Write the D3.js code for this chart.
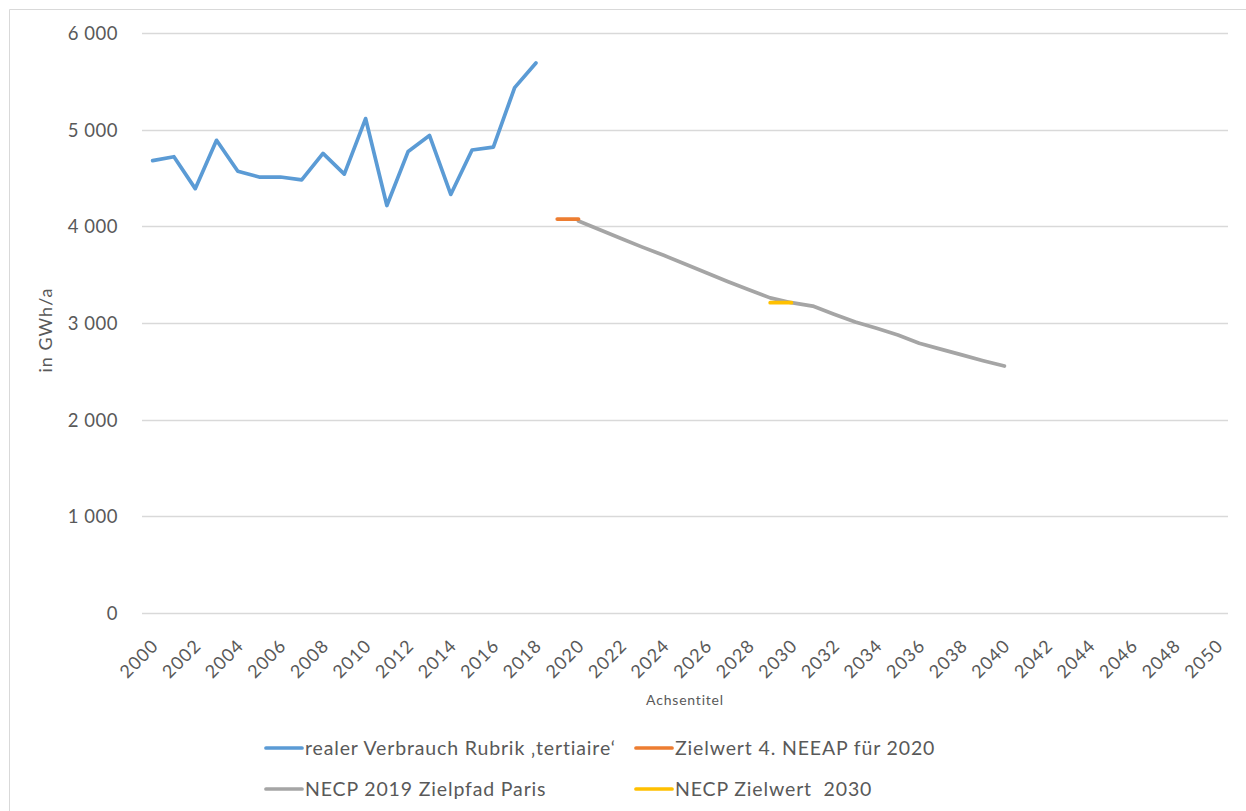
<!DOCTYPE html>
<html lang="de">
<head>
<meta charset="UTF-8">
<title>Verbrauch tertiaire</title>
<script src="https://d3js.org/d3.v7.min.js"></script>
<style>
    body, html { margin: 0; padding: 0; background: #fff; }
    svg text { font-family: Lato, "Open Sans", sans-serif; fill: #595959; white-space: pre; }
</style>
</head>
<body>
<div id="chart"></div>
<script>
    // categories: years 2000..2050
    var years = d3.range(2000, 2051);
    var yTicks = [0, 1000, 2000, 3000, 4000, 5000, 6000];

    // realer Verbrauch Rubrik 'tertiaire'
    var realYears = d3.range(2000, 2019);
    var realValues = [4680, 4720, 4390, 4890, 4570, 4510, 4510, 4480, 4755, 4540,
        5115, 4215, 4775, 4940, 4330, 4790, 4820, 5435, 5690];

    // Zielwert 4. NEEAP fuer 2020
    var neeapYears = [2019, 2020];
    var neeapValues = [4075, 4075];

    // NECP 2019 Zielpfad Paris
    var necpYears = d3.range(2020, 2041);
    var necpValues = [4055, 3965, 3875, 3785, 3700, 3610, 3520, 3430, 3345, 3260,
        3210, 3175, 3090, 3010, 2945, 2875, 2790, 2730, 2670, 2610, 2555];

    // NECP Zielwert 2030
    var zielYears = [2029, 2030];
    var zielValues = [3210, 3210];

    var seriesNames = ["realer Verbrauch Rubrik \u201Atertiaire\u2018", "Zielwert 4. NEEAP f\u00FCr 2020",
        "NECP 2019 Zielpfad Paris", "NECP Zielwert  2030"];
    var seriesColors = ["#5b9bd5", "#ed7d31", "#a5a5a5", "#ffc000"];

    var width = 1246, height = 811;
    var plot = { left: 142, right: 1228, top: 33, bottom: 613 };

    var svg = d3.select("#chart").append("svg")
        .attr("width", width)
        .attr("height", height);

    // chart frame
    svg.append("path")
        .attr("d", "M9.5," + height + "V9.5H" + width)
        .attr("fill", "none")
        .attr("stroke", "#d9d9d9")
        .attr("stroke-width", 1);

    var x = d3.scaleBand()
        .domain(years)
        .range([plot.left, plot.right]);

    var y = d3.scaleLinear()
        .domain([0, 6000])
        .range([plot.bottom, plot.top]);

    var fmt = function (d) { return d3.format(",")(d).replace(",", " "); };

    // gridlines
    svg.append("g")
        .selectAll("line")
        .data(yTicks)
        .enter().append("line")
        .attr("x1", plot.left)
        .attr("x2", plot.right)
        .attr("y1", d => Math.round(y(d)) + 0.5)
        .attr("y2", d => Math.round(y(d)) + 0.5)
        .attr("stroke", "#d9d9d9")
        .attr("stroke-width", 1.3);

    // y axis
    var yAxis = svg.append("g")
        .attr("transform", "translate(" + (plot.left - 24) + ",0)")
        .call(d3.axisLeft(y).tickValues(yTicks).tickFormat(fmt).tickSize(0).tickPadding(0));
    yAxis.select(".domain").remove();
    yAxis.selectAll("text")
        .style("font-size", "18.5px")
        .style("letter-spacing", "0.5px")
        .style("fill", "#595959")
        .attr("dy", "0.35em");

    // x axis
    var xAxis = svg.append("g")
        .attr("transform", "translate(0," + plot.bottom + ")")
        .call(d3.axisBottom(x).tickValues(years.filter(d => d % 2 === 0)).tickSize(0));
    xAxis.select(".domain").remove();
    xAxis.selectAll("text")
        .style("font-size", "18px")
        .style("letter-spacing", "1px")
        .style("fill", "#595959")
        .style("text-anchor", "end")
        .attr("x", 0)
        .attr("y", 0)
        .attr("dy", 0)
        .attr("transform", "translate(7,34) rotate(-45)");

    // axis titles
    svg.append("text")
        .attr("transform", "translate(52," + ((plot.top + plot.bottom) / 2 + 7) + ") rotate(-90)")
        .attr("text-anchor", "middle")
        .style("font-size", "18px")
        .style("letter-spacing", "1px")
        .text("in GWh/a");

    svg.append("text")
        .attr("x", (plot.left + plot.right) / 2)
        .attr("y", 705)
        .attr("text-anchor", "middle")
        .style("font-size", "14px")
        .style("letter-spacing", "0.8px")
        .text("Achsentitel");

    var line = d3.line()
        .x(d => x(d[0]) + x.bandwidth() / 2)
        .y(d => y(d[1]));

    var series = [
        d3.zip(realYears, realValues),
        d3.zip(neeapYears, neeapValues),
        d3.zip(necpYears, necpValues),
        d3.zip(zielYears, zielValues)
    ];
    var drawOrder = [0, 2, 1, 3];

    svg.append("g")
        .selectAll("path")
        .data(drawOrder)
        .enter().append("path")
        .attr("d", i => line(series[i]))
        .attr("fill", "none")
        .attr("stroke", i => seriesColors[i])
        .attr("stroke-width", 3.7)
        .attr("stroke-linejoin", "round")
        .attr("stroke-linecap", "round");

    // legend
    var legendPos = [[266, 748], [636, 748], [266, 789], [636, 789]];
    var legend = svg.append("g")
        .selectAll("g")
        .data(seriesNames)
        .enter().append("g")
        .attr("transform", (d, i) => "translate(" + legendPos[i][0] + "," + legendPos[i][1] + ")");

    legend.append("line")
        .attr("x1", 0)
        .attr("x2", 36)
        .attr("stroke", (d, i) => seriesColors[i])
        .attr("stroke-width", 3.7)
        .attr("stroke-linecap", "round");

    legend.append("text")
        .attr("x", 39)
        .attr("dy", "0.35em")
        .style("font-size", "19.5px")
        .style("letter-spacing", "0.85px")
        .text(d => d);
</script>
</body>
</html>
